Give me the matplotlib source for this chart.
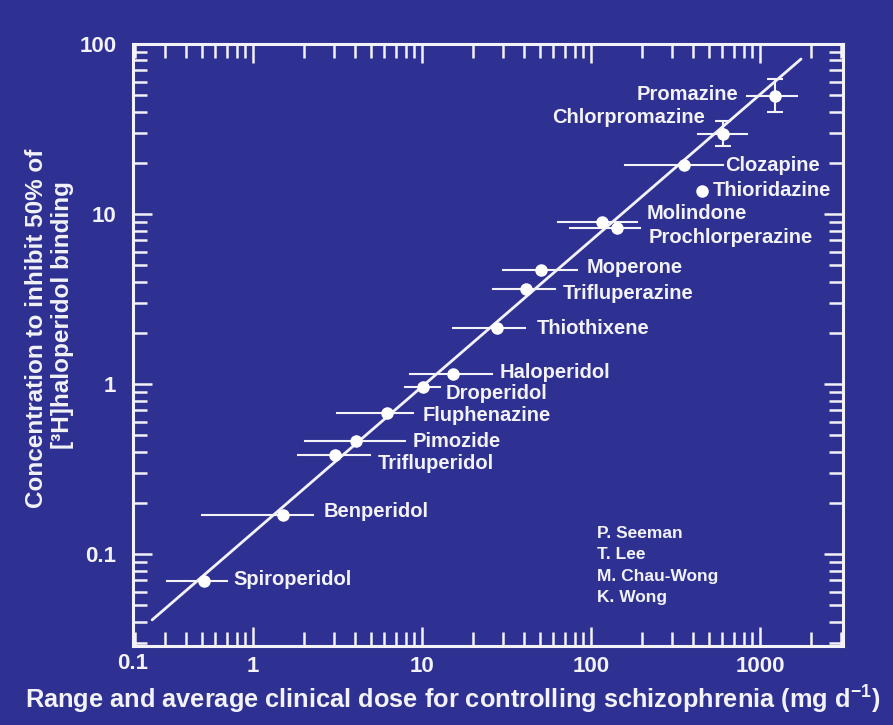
import numpy as np
import matplotlib
matplotlib.use("Agg")
import matplotlib.pyplot as plt
from matplotlib.ticker import LogLocator, FixedLocator, FixedFormatter, NullFormatter

# ---------------- data ----------------
drugs = ["Spiroperidol", "Benperidol", "Trifluperidol", "Pimozide", "Fluphenazine",
         "Droperidol", "Haloperidol", "Thiothixene", "Trifluperazine", "Moperone",
         "Molindone", "Prochlorperazine", "Clozapine", "Thioridazine",
         "Chlorpromazine", "Promazine"]
dose = [0.51, 1.51, 3.06, 4.07, 6.21, 10.2, 15.3, 27.8, 41.3, 50.6,
        116, 143, 355, 454, 604, 1227]
dose_lo = [0.31, 0.50, 1.85, 2.03, 3.14, 7.93, 8.5, 15.3, 26.3, 30.2,
           63.9, 75.1, 159, np.nan, 430, 838]
dose_hi = [0.70, 2.27, 4.93, 7.95, 8.85, 12.8, 26.0, 40.7, 61.2, 82.6,
           187, 194, 604, np.nan, 838, 1656]
ic50 = [0.0694, 0.170, 0.382, 0.462, 0.675, 0.96, 1.145, 2.14, 3.62, 4.69,
        8.97, 8.27, 19.4, 13.7, 29.5, 49.4]
ic50_lo = [np.nan] * 14 + [25.1, 39.8]
ic50_hi = [np.nan] * 14 + [35.2, 62.3]

fit_x = [0.253, 1750]
fit_y = [0.041, 81.6]

x_ticks = [1, 10, 100, 1000]
x_ticklabels = ["1", "10", "100", "1000"]
y_ticks = [0.1, 1, 10, 100]
y_ticklabels = ["0.1", "1", "10", "100"]
authors = ["P. Seeman", "T. Lee", "M. Chau-Wong", "K. Wong"]

# label placement (offset in pixels from the point, alignment)
label_offsets = {
    "Spiroperidol": (30, 2, "left"), "Benperidol": (40, 3, "left"),
    "Trifluperidol": (43, -8, "left"), "Pimozide": (57, 0, "left"),
    "Fluphenazine": (36, -2, "left"), "Droperidol": (22, -6, "left"),
    "Haloperidol": (46, 2, "left"), "Thiothixene": (40, -1, "left"),
    "Trifluperazine": (37, -4, "left"), "Moperone": (46, 2, "left"),
    "Molindone": (45, 9, "left"), "Prochlorperazine": (31, -9, "left"),
    "Clozapine": (41, 0, "left"), "Thioridazine": (11, 0, "left"),
    "Chlorpromazine": (-18, 17, "right"), "Promazine": (-37, 2, "right"),
}

# ---------------- style ----------------
BG = "#2e3191"
FG = "#f2f2f8"
FONT = "Liberation Sans"
plt.rcParams["font.family"] = [FONT, "DejaVu Sans"]
plt.rcParams["font.weight"] = "bold"
plt.rcParams["mathtext.fontset"] = "custom"
plt.rcParams["mathtext.rm"] = FONT + ":bold"
plt.rcParams["mathtext.bf"] = FONT + ":bold"
plt.rcParams["mathtext.default"] = "rm"

W, H = 893, 725
fig = plt.figure(figsize=(W / 100, H / 100), dpi=100, facecolor=BG)
L, R, T, B = 133, 843, 44, 646
ax = fig.add_axes([L / W, 1 - B / H, (R - L) / W, (B - T) / H], facecolor=BG)

ax.set_xscale("log")
ax.set_yscale("log")
ax.set_xlim(0.195, 3100)
ax.set_ylim(0.0288, 100)

# regression line
ax.plot(fit_x, fit_y, color=FG, lw=2.0, solid_capstyle="round", zorder=2)

# error bars
for i in range(len(drugs)):
    if not np.isnan(dose_lo[i]):
        ax.plot([dose_lo[i], dose_hi[i]], [ic50[i], ic50[i]], color=FG, lw=1.5, zorder=3)
    if not np.isnan(ic50_lo[i]):
        ax.errorbar([dose[i]], [ic50[i]],
                    yerr=[[ic50[i] - ic50_lo[i]], [ic50_hi[i] - ic50[i]]],
                    fmt="none", ecolor=FG, elinewidth=1.5, capsize=6, capthick=1.5, zorder=3)

ax.plot(dose, ic50, "o", color="white", markersize=9, markeredgewidth=0, zorder=4)

for name, xv, yv in zip(drugs, dose, ic50):
    dx, dy, ha = label_offsets[name]
    ax.annotate(name, xy=(xv, yv), xytext=(dx, dy), textcoords="offset pixels",
                ha=ha, va="center", color=FG, fontsize=14.5, fontweight="bold")

# spines and ticks
for s in ax.spines.values():
    s.set_color(FG)
    s.set_linewidth(2.2)

ax.xaxis.set_major_locator(FixedLocator(x_ticks))
ax.xaxis.set_major_formatter(FixedFormatter(x_ticklabels))
ax.yaxis.set_major_locator(FixedLocator(y_ticks))
ax.yaxis.set_major_formatter(FixedFormatter(y_ticklabels))
ax.xaxis.set_minor_locator(LogLocator(base=10, subs=np.arange(2, 10), numticks=20))
ax.yaxis.set_minor_locator(LogLocator(base=10, subs=np.arange(2, 10), numticks=20))
ax.xaxis.set_minor_formatter(NullFormatter())
ax.yaxis.set_minor_formatter(NullFormatter())

ax.tick_params(which="both", direction="in", top=True, right=True, color=FG,
               labelcolor=FG, width=1.8)
ax.tick_params(which="major", length=14, labelsize=16)
ax.tick_params(which="minor", length=10)
ax.tick_params(axis="x", which="major", pad=7)
ax.tick_params(axis="y", which="major", pad=12)
for lab in ax.get_xticklabels() + ax.get_yticklabels():
    lab.set_fontweight("bold")

# "0.1" label at the left end of the x axis, as in the original
ax.text(0, -7 / (B - T), "0.1", transform=ax.transAxes, ha="center", va="top",
        color=FG, fontsize=16, fontweight="bold")

# axis titles
fig.text(453 / W, 1 - 700 / H,
         r"Range and average clinical dose for controlling schizophrenia (mg d$^{-1}$)",
         ha="center", va="center", color=FG, fontsize=18.3, fontweight="bold")
fig.text(37 / W, 1 - 328 / H, "Concentration to inhibit 50% of",
         rotation=90, ha="center", va="center", color=FG, fontsize=17.5, fontweight="bold")
fig.text(63 / W, 1 - 315 / H, "[³H]haloperidol binding",
         rotation=90, ha="center", va="center", color=FG, fontsize=17.5, fontweight="bold")

# authors
for k, name in enumerate(authors):
    fig.text(597 / W, 1 - (533 + 21.5 * k) / H, name, ha="left", va="center",
             color=FG, fontsize=12.5, fontweight="bold")

fig.savefig("out.png", dpi=100, facecolor=BG)
